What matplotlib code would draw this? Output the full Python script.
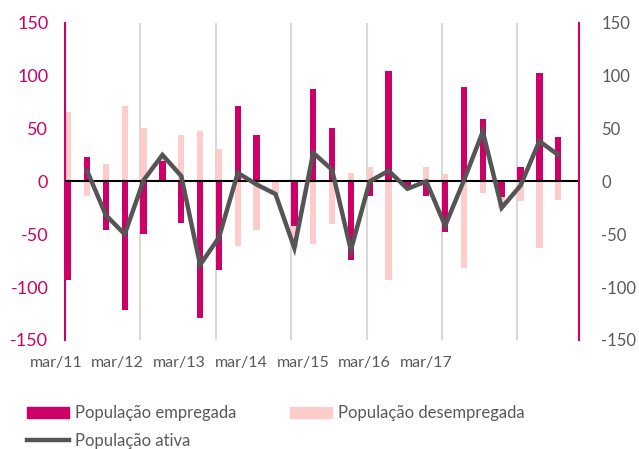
import numpy as np
import matplotlib
matplotlib.use("Agg")
import matplotlib.pyplot as plt
import matplotlib.transforms as mtransforms
from matplotlib.patches import Patch
from matplotlib.lines import Line2D

plt.rcParams["font.family"] = ["Lato", "DejaVu Sans"]
plt.rcParams["axes.unicode_minus"] = False

# trimestres mar/11 .. set/17
empregada = [-93, 23, -46, -122, -50, 19, -39, -129, -84, 71, 44, 0, -42, 87,
             50, -74, -14, 104, -4, -14, -48, 89, 59, -15, 14, 102, 42]
desempregada = [66, -14, 16, 71, 50, 6, 44, 48, 31, -61, -46, -12, -21, -59,
                -40, 8, 14, -93, -3, 14, 7, -82, -11, -10, -19, -63, -18]
ativa = [np.nan, 10, -32, -50, 1, 25, 5, -79, -53, 8, -3, -12, -63, 27,
         11, -65, 0, 10, -7, 0, -42, 1, 47, -25, -4, 38, 25]
year_labels = ["mar/11", "mar/12", "mar/13", "mar/14", "mar/15", "mar/16", "mar/17"]

MAGENTA = "#CC0066"
PINK = "#FFCCCC"
LINE = "#555555"
GREY_TXT = "#595959"

emp = np.array(empregada, dtype=float)
des = np.array(desempregada, dtype=float)
x = np.arange(len(emp))
w = 0.34

fig = plt.figure(figsize=(6.39, 4.49), dpi=100)
ax = fig.add_axes([0.1017, 0.2428, 0.906 - 0.1017, 0.9494 - 0.2428])

# gridlines at the start of each year
for i in range(4, len(x), 4):
    ax.axvline(i - w / 2, color="#D9D9D9", lw=1.5, zorder=0)

# stacked bars (positive and negative stacked separately)
des_bottom = np.where(np.sign(des) == np.sign(emp), emp, 0)
ax.bar(x, emp, width=w, color=MAGENTA, zorder=2)
ax.bar(x, des, width=w, bottom=des_bottom, color=PINK, zorder=2)
ax.axhline(0, color="black", lw=1.5, zorder=3)
ax.plot(x, ativa, color=LINE, lw=3.2, zorder=4, solid_joinstyle="miter")

ax.set_ylim(-150, 150)
ax.set_yticks(range(-150, 151, 50))
ax.tick_params(axis="y", length=0, pad=12, labelsize=13, labelcolor=MAGENTA)
ax.set_xticks([])

for s in ["top", "bottom", "right"]:
    ax.spines[s].set_visible(False)
ax.spines["left"].set_color(MAGENTA)
ax.spines["left"].set_linewidth(1.5)

ax2 = ax.twinx()
ax2.set_ylim(-150, 150)
ax2.set_yticks(range(-150, 151, 50))
ax2.tick_params(axis="y", length=0, pad=16, labelsize=12, labelcolor=GREY_TXT)
for s in ["top", "bottom", "left"]:
    ax2.spines[s].set_visible(False)
ax2.spines["right"].set_color(MAGENTA)
ax2.spines["right"].set_linewidth(1.5)

ax.set_xlim(-w / 2, 27.1)
ax2.set_xlim(-w / 2, 27.1)

# year labels (as in the original, not aligned with the year gridlines)
trans = mtransforms.blended_transform_factory(ax.transData, ax.transAxes)
for xp, lab in zip(np.linspace(-0.65, 19.0, len(year_labels)), year_labels):
    ax.text(xp, -0.052, lab, transform=trans, ha="center", va="top",
            fontsize=11.5, color=GREY_TXT, clip_on=False)

handles = [
    Patch(color=MAGENTA, label="População empregada"),
    Line2D([], [], color=LINE, lw=3.2, label="População ativa"),
    Patch(color=PINK, label="População desempregada"),
]
fig.legend(handles=handles, ncol=2, frameon=False, loc="upper left",
           bbox_to_anchor=(0.042, 0.097), fontsize=12, labelcolor=GREY_TXT,
           handlelength=2.5, handletextpad=0.4, columnspacing=3.2,
           labelspacing=0.7, borderaxespad=0, borderpad=0)

fig.savefig("out.png", dpi=100)
